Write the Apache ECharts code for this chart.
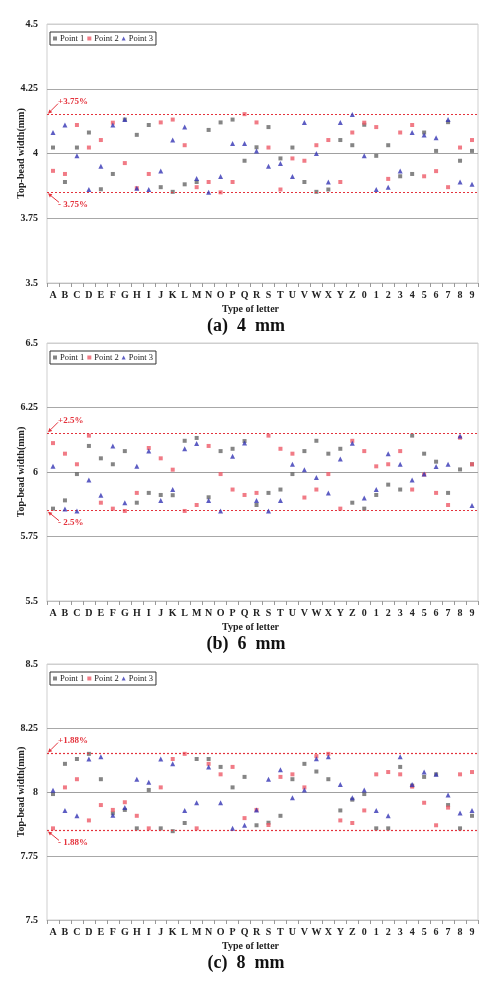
<!DOCTYPE html>
<html>
<head>
<meta charset="utf-8">
<script src="https://cdn.jsdelivr.net/npm/echarts@6/dist/echarts.min.js"></script>
<style>
  html, body { margin: 0; padding: 0; background: #fff; }
  #chart { width: 500px; height: 982px; }
</style>
</head>
<body>
<div id="chart"></div>
<script>
var letters = ['A','B','C','D','E','F','G','H','I','J','K','L','M','N','O','P','Q','R','S','T','U','V','W','X','Y','Z','0','1','2','3','4','5','6','7','8','9'];

// (a) 4 mm
var p1_4mm = [4.023,3.89,4.023,4.081,3.862,3.921,4.131,4.072,4.11,3.87,3.852,3.881,3.89,4.091,4.12,4.131,3.972,4.024,4.102,3.981,4.023,3.89,3.852,3.861,4.052,4.032,4.111,3.991,4.032,3.912,3.921,4.081,4.01,4.121,3.972,4.01];
var p2_4mm = [3.933,3.921,4.11,4.023,4.052,4.119,3.963,3.866,3.921,4.12,4.131,4.032,3.87,3.89,3.85,3.89,4.152,4.12,4.023,3.861,3.981,3.972,4.032,4.052,3.89,4.081,4.119,4.102,3.902,4.081,4.11,3.912,3.932,3.87,4.023,4.052];
var p3_4mm = [4.081,4.11,3.991,3.861,3.951,4.11,4.131,3.866,3.861,3.932,4.052,4.102,3.903,3.85,3.911,4.039,4.039,4.01,3.951,3.961,3.911,4.12,4.0,3.89,4.12,4.151,3.991,3.861,3.87,3.932,4.081,4.071,4.061,4.131,3.89,3.881];

// (b) 6 mm
var p1_6mm = [5.858,5.89,5.992,6.101,6.053,6.03,6.081,5.881,5.919,5.911,5.91,6.121,6.132,5.902,6.081,6.09,6.12,5.872,5.919,5.932,5.992,6.081,6.121,6.071,6.09,5.881,5.858,5.911,5.951,5.932,6.141,6.071,6.04,5.919,6.01,6.03];
var p2_6mm = [6.112,6.071,6.03,6.141,5.881,5.858,5.849,5.919,6.093,6.053,6.009,5.849,5.872,6.101,5.992,5.932,5.911,5.919,6.141,6.09,6.071,5.901,5.932,5.992,5.858,6.121,6.081,6.022,6.03,6.081,5.932,5.99,5.919,5.872,6.133,6.03];
var p3_6mm = [6.022,5.857,5.849,5.969,5.91,6.101,5.881,6.022,6.081,5.89,5.932,6.09,6.11,5.89,5.849,6.061,6.112,5.89,5.849,5.89,6.03,6.009,5.979,5.919,6.05,6.111,5.899,5.932,6.071,6.03,5.969,5.992,6.021,6.03,6.14,5.87];

// (c) 8 mm
var p1_8mm = [7.992,8.11,8.129,8.149,8.05,7.917,7.93,7.858,8.008,7.858,7.847,7.879,8.129,8.129,8.098,8.018,8.059,7.87,7.88,7.907,8.05,8.11,8.08,8.05,7.928,7.97,7.992,7.858,7.858,8.098,8.025,8.059,8.069,7.949,7.858,7.907];
var p2_8mm = [7.858,8.018,8.05,7.889,7.949,7.93,7.96,7.907,7.858,8.018,8.129,8.149,7.858,8.11,8.069,8.098,7.898,7.93,7.871,8.059,8.069,8.018,8.14,8.149,7.889,7.879,7.928,8.069,8.078,8.069,8.021,7.958,7.87,7.939,8.069,8.078];
var p3_8mm = [8.007,7.928,7.907,8.129,8.138,7.909,7.939,8.05,8.038,8.129,8.11,7.928,7.958,8.098,7.958,7.858,7.87,7.93,8.05,8.087,7.978,8.008,8.13,8.138,8.029,7.978,8.008,7.928,7.907,8.138,8.029,8.078,8.069,7.988,7.918,7.928];

var yMins = [3.5, 5.5, 7.5];
var yMaxs = [4.5, 6.5, 8.5];
var limitsHi = [4.15, 6.15, 8.15];
var limitsLo = [3.85, 5.85, 7.85];
var limitLabelsHi = ['+3.75%', '+2.5%', '+1.88%'];
var limitLabelsLo = ['- 3.75%', '- 2.5%', '- 1.88%'];
var captions = ['(a)  4  mm', '(b)  6  mm', '(c)  8  mm'];

var seriesData = [
  [p1_4mm, p2_4mm, p3_4mm],
  [p1_6mm, p2_6mm, p3_6mm],
  [p1_8mm, p2_8mm, p3_8mm]
];
var seriesNames = ['Point 1', 'Point 2', 'Point 3'];
var seriesColors = ['#666666', '#ee5a68', '#3434b4'];
var seriesSymbols = ['rect', 'rect', 'triangle'];
var seriesSizes = [4, 4, 5];

// layout
var gridLeft = 47;
var gridWidth = 431;
var gridTops = [24, 343, 664];
var gridHeights = [259, 258, 256];
var serif = '"Liberation Serif", "DejaVu Serif", serif';
var red = '#e4323c';

var chart = echarts.init(document.getElementById('chart'), null, { renderer: 'canvas' });

var grids = [], xAxes = [], yAxes = [], legends = [], series = [];
for (var i = 0; i < 3; i++) {
  grids.push({
    left: gridLeft, top: gridTops[i], width: gridWidth, height: gridHeights[i],
    outerBoundsMode: 'none', containLabel: false,
    show: true, borderColor: '#cfcfcf', borderWidth: 1, backgroundColor: '#fff'
  });
  xAxes.push({
    type: 'category', gridIndex: i, data: letters, boundaryGap: true,
    name: 'Type of letter', nameLocation: 'middle', nameGap: 21, nameMoveOverlap: false,
    nameTextStyle: { fontFamily: serif, fontWeight: 'bold', fontSize: 10, color: '#222', padding: [0, 24, 0, 0] },
    axisLine: { lineStyle: { color: '#bdbdbd' } },
    axisTick: { show: true, length: 4, interval: 0, lineStyle: { color: '#999' } },
    axisLabel: { interval: 0, margin: 7, fontFamily: serif, fontWeight: 'bold', fontSize: 10, color: '#222' },
    splitLine: { show: false }
  });
  yAxes.push({
    type: 'value', gridIndex: i, min: yMins[i], max: yMaxs[i], interval: 0.25,
    name: 'Top-bead width(mm)', nameLocation: 'middle', nameGap: 21, nameMoveOverlap: false,
    nameTextStyle: { fontFamily: serif, fontWeight: 'bold', fontSize: 10, color: '#222' },
    axisLine: { show: false },
    axisTick: { show: false },
    axisLabel: { margin: 9, fontFamily: serif, fontWeight: 'bold', fontSize: 10, color: '#222' },
    splitLine: { show: true, lineStyle: { color: ['#cfcfcf', '#a8a8a8', '#a0a0a0', '#a8a8a8', '#cfcfcf'], width: 1 } }
  });
  legends.push({
    left: gridLeft + 3, top: gridTops[i] + 8,
    data: seriesNames,
    orient: 'horizontal',
    itemWidth: 4, itemHeight: 4, itemGap: 3,
    padding: [2, 3, 2, 3],
    borderColor: '#333', borderWidth: 1,
    textStyle: { fontFamily: serif, fontSize: 8.5, color: '#222', padding: [0, 0, 0, -2] },
    selectedMode: false
  });
  for (var s = 0; s < 3; s++) {
    var ser = {
      name: seriesNames[s], type: 'scatter',
      xAxisIndex: i, yAxisIndex: i,
      data: seriesData[i][s],
      symbol: seriesSymbols[s], symbolSize: seriesSizes[s],
      itemStyle: { color: seriesColors[s] },
      z: 3 + s,
      silent: true
    };
    if (s === 1) {
      ser.markLine = {
        silent: true, symbol: 'none', label: { show: false },
        lineStyle: { color: red, type: [2, 2], width: 1.2 },
        data: [{ yAxis: limitsHi[i] }, { yAxis: limitsLo[i] }]
      };
    }
    series.push(ser);
  }
}

chart.setOption({
  animation: false,
  backgroundColor: '#fff',
  grid: grids, xAxis: xAxes, yAxis: yAxes, legend: legends, series: series
});

function arrow(x1, y1, x2, y2) {
  var dx = x2 - x1, dy = y2 - y1, len = Math.sqrt(dx * dx + dy * dy);
  var ux = dx / len, uy = dy / len, h = 4, w = 2;
  var bx = x2 - ux * h, by = y2 - uy * h;
  return [
    { type: 'line', shape: { x1: x1, y1: y1, x2: bx, y2: by }, style: { stroke: red, lineWidth: 1 }, z: 20 },
    { type: 'polygon', shape: { points: [[x2, y2], [bx - uy * w, by + ux * w], [bx + uy * w, by - ux * w]] }, style: { fill: red }, z: 20 }
  ];
}

var graphics = [];
for (var k = 0; k < 3; k++) {
  var yHi = chart.convertToPixel({ yAxisIndex: k }, limitsHi[k]);
  var yLo = chart.convertToPixel({ yAxisIndex: k }, limitsLo[k]);
  graphics.push({
    type: 'text', z: 20,
    style: { text: limitLabelsHi[k], x: gridLeft + 11, y: yHi - 13, fill: red, font: 'bold 9px ' + serif, verticalAlign: 'middle' }
  });
  graphics.push({
    type: 'text', z: 20,
    style: { text: limitLabelsLo[k], x: gridLeft + 11, y: yLo + 12, fill: red, font: 'bold 9px ' + serif, verticalAlign: 'middle' }
  });
  graphics = graphics.concat(arrow(gridLeft + 11, yHi - 11, gridLeft + 1, yHi - 1));
  graphics = graphics.concat(arrow(gridLeft + 12, yLo + 10, gridLeft + 1, yLo + 1));
  graphics.push({
    type: 'text', z: 20,
    style: {
      text: captions[k], x: 246, y: gridTops[k] + gridHeights[k] + 43,
      fill: '#111', font: 'bold 18px ' + serif, align: 'center', verticalAlign: 'middle'
    }
  });
}
chart.setOption({ graphic: graphics });

window.addEventListener('resize', chart.resize);
</script>
</body>
</html>
